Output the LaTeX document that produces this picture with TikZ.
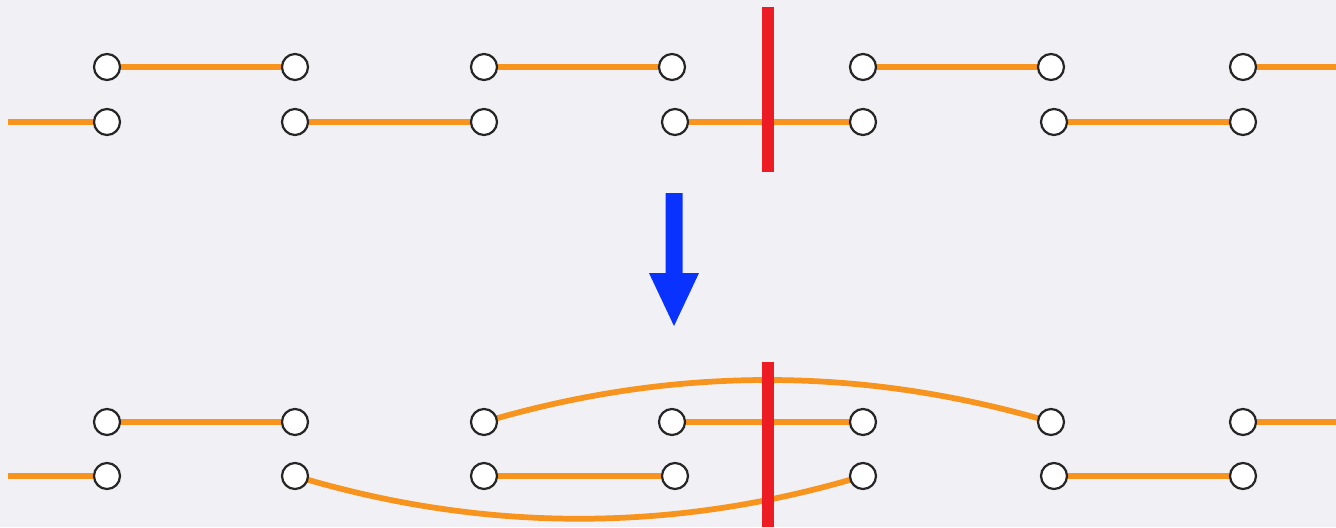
\documentclass[tikz,border=0pt]{standalone}
\usetikzlibrary{calc}
\pgfdeclarelayer{back}
\pgfdeclarelayer{bg}
\pgfsetlayers{back,bg,main}
\definecolor{bgcol}{HTML}{F1F0F5}
\definecolor{wireor}{HTML}{F7941D}
\definecolor{cutred}{HTML}{ED1C24}
\definecolor{arrblue}{HTML}{0A32FF}
\tikzset{
  pt/.style={circle, draw=black!85, line width=1.9pt, fill=white, minimum size=0.78cm, inner sep=0pt},
  wire/.style={draw=wireor, line width=4.9pt},
  cutbar/.style={draw=cutred, line width=10.2pt},
}
\begin{document}
\begin{tikzpicture}[x=0.03cm, y=-0.03cm]
\begin{pgfonlayer}{back}
\fill[bgcol] (0,0) rectangle (1336,527);
\end{pgfonlayer}
\useasboundingbox (0,0) rectangle (1336,527);

% top half
\foreach \n/\x in {a/107,b/295,c/484,d/672,e/863,f/1051,g/1243}
  \node[pt] (tu\n) at (\x,67) {};
\foreach \n/\x in {a/107,b/295,c/484,d/675,e/863,f/1054,g/1243}
  \node[pt] (tl\n) at (\x,122) {};
% bottom half
\foreach \n/\x in {a/107,b/295,c/484,d/672,e/863,f/1051,g/1243}
  \node[pt] (bu\n) at (\x,422) {};
\foreach \n/\x in {a/107,b/295,c/484,d/675,e/863,f/1054,g/1243}
  \node[pt] (bl\n) at (\x,476) {};

\coordinate (tlstart) at (8,122);
\coordinate (tuend) at (1336,67);
\coordinate (blstart) at (8,476);
\coordinate (buend) at (1336,422);

\coordinate (cutTtop) at (768,7);
\coordinate (cutTbot) at (768,172);
\coordinate (cutBtop) at (768,362);
\coordinate (cutBbot) at (768,527);

\coordinate (ctrlUpA) at (673,366);
\coordinate (ctrlUpB) at (862,366);
\coordinate (ctrlDnA) at (484,533);
\coordinate (ctrlDnB) at (674,533);

\begin{pgfonlayer}{bg}
  % top wires
  \draw[wire] (tua.center) -- (tub.center);
  \draw[wire] (tuc.center) -- (tud.center);
  \draw[wire] (tue.center) -- (tuf.center);
  \draw[wire] (tug.center) -- (tuend);
  \draw[wire] (tlstart) -- (tla.center);
  \draw[wire] (tlb.center) -- (tlc.center);
  \draw[wire] (tld.center) -- (tle.center);
  \draw[wire] (tlf.center) -- (tlg.center);
  % bottom wires
  \draw[wire] (bua.center) -- (bub.center);
  \draw[wire] (bud.center) -- (bue.center);
  \draw[wire] (bug.center) -- (buend);
  \draw[wire] (blstart) -- (bla.center);
  \draw[wire] (blc.center) -- (bld.center);
  \draw[wire] (blf.center) -- (blg.center);
  \draw[wire] (buc.center) .. controls (ctrlUpA) and (ctrlUpB) .. (buf.center);
  \draw[wire] (blb.center) .. controls (ctrlDnA) and (ctrlDnB) .. (ble.center);
  % cut bars
  \draw[cutbar] (cutTtop) -- (cutTbot);
  \draw[cutbar] (cutBtop) -- (cutBbot);
\end{pgfonlayer}

% blue arrow
\fill[arrblue] (665.5,193) -- (682.5,193) -- (682.5,273) -- (699,273) -- (674,326) -- (649,273) -- (665.5,273) -- cycle;
\end{tikzpicture}
\end{document}
